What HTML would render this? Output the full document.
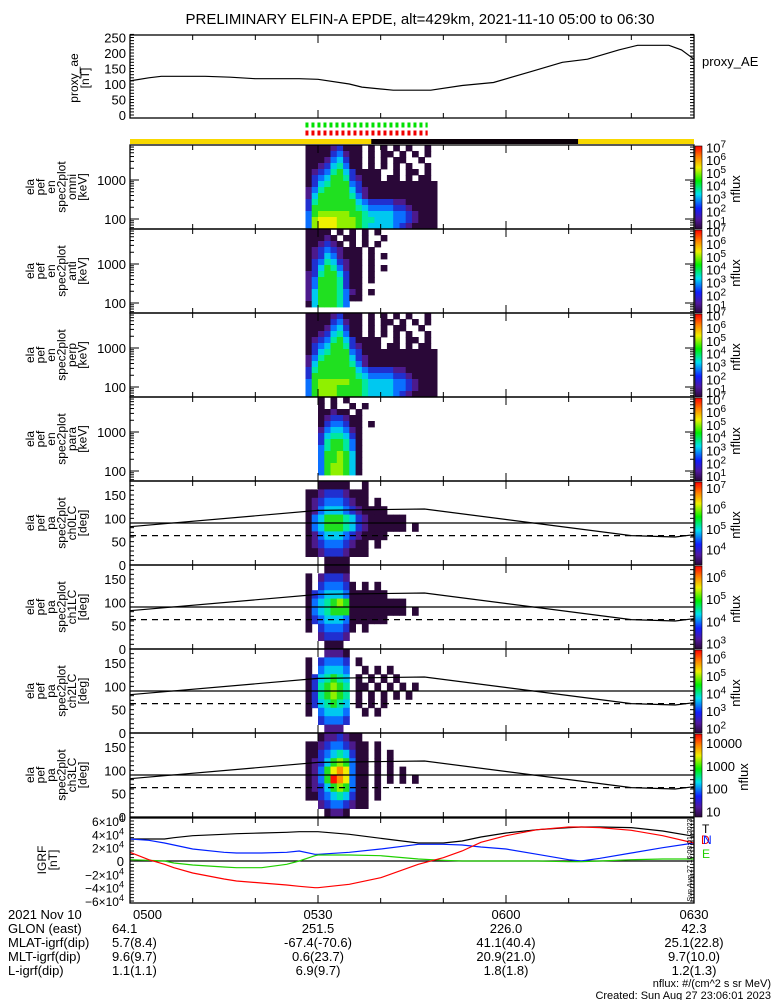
<!DOCTYPE html>
<html><head><meta charset="utf-8">
<style>
html,body{margin:0;padding:0;background:#fff;}
svg{display:block;font-family:"Liberation Sans",sans-serif;}
</style></head>
<body>
<svg id="c" width="775" height="1000" viewBox="0 0 775 1000" xmlns="http://www.w3.org/2000/svg">
<defs>
<linearGradient id="cbg" x1="0" y1="1" x2="0" y2="0">
<stop offset="0" stop-color="#2a0838"/><stop offset="0.12" stop-color="#5018a0"/>
<stop offset="0.25" stop-color="#1020ff"/><stop offset="0.42" stop-color="#00e0f0"/>
<stop offset="0.58" stop-color="#00f000"/><stop offset="0.74" stop-color="#f0f000"/>
<stop offset="0.87" stop-color="#ff8000"/><stop offset="1" stop-color="#ff0000"/>
</linearGradient>
</defs>
<text x="420" y="24" font-size="15" text-anchor="middle">PRELIMINARY ELFIN-A EPDE, alt=429km, 2021-11-10 05:00 to 06:30</text>
</svg>
<script>
// ---------- data ----------
const aeTimes = [0,3,5,12,16,20,27,30,35,37,42,48,53,58,64,69,73,78,81,86,88,90];
const aeValues = [110,120,125,125,122,117,117,115,100,90,80,80,95,105,140,170,180,210,225,225,210,180];
const statusTimes = [28,47.5]; // green/red dash span (min after 05:00)
const nightTimes = [38.5,71.5];
const specStart = 28;
const specStep = 1;
const omniRows = [
"000012000.0.0.0.0..0","000023100.0.00.0.0.0","000134200.0.0.00..0.","001245300.0.0.0.0..0",
"012356420000..0.00.0","023466521000.00.0.00","024566632000000000000","135666642100000000000",
"146666653100000000000","256666664322221100000","266666665433332210000","367777766544443321000",
"378887776554443321000","378887776544443210000"];
const antiRows = [
"0000.0.0.0.0........","00010.00.0..0.......","001210.0.0.0........","012321000.0.........",
"012431000.0.0.......","023542100.0.........","024653100.0.0.......","125664200.0.........",
"136665200.0.........","136665200...........","146665310.0.........","146665300...........",
"0466653.............","...................."];
const perpRows = [
"000012000.0.0.0.0..0","000023100.0.00.0.0.0","000134200.0.0.00..0.","001245300.0.0.0.0..0",
"012356420000..0.00.0","023466521000.00.0.00","024566632000000000000","135666642100000000000",
"146666653100000000000","256666664322221100000","266666665433332210000","367777766544443321000",
"367776666544443321000","367776666544443210000"];
const paraRows = [
"..0.0.0.............","..0.0..0.0..........","..00100.0...........","..0122100...........",
"..0233200.0.........","..1344310...........","..2455420...........","..2566530...........",
"..3566530...........","..3667640...........","..3667640...........","..3677640...........",
"..3677640...........","..............."];
const ch0Rows = ["..00000..0..........","0012221000..........","0123332100.0........","0134443210000.......",
"0346665421000000....","0346665421000000.0..","0134443210000.......","0123332100.0........","0012221000..........","...0000............."];
const ch1Rows = ["...0000.............","0.12221.............","0.233320.0.0........","0234443000000.......",
"0345676000000000....","0345666000000000.0..","0234443000000.......","0.233320.0..........","..12221.............","...000.............."];
const ch2Rows = ["...1110.............","0.23332.0...........","0.34443..0.0.0......","0245654.0.0.0.0.....",
"0256765.00.0.0.0.0..","0256765.0.0.0.0.0...","0245654.0.0.0.......","0.34443..0.0........","..23332.............","...111.............."];
const ch3Rows = ["..0112100...........","0012332100.0........","0023454200.0.0......","0124676300.0.0......",
"0136898300.0.0.0....","0136A98300.0.0.0.0..","0124676300.0........","0023454200.0........","..12332100..........","...0110............."];
const lcTimes = [0,30,47,80,87,90];
const lcUpper = [82,117,120,63,60,65];
const dashedPA = 63;
const igrfTimes = [0,3,5.5,7,10,15,17,21,25,27,29.5,30,35,40,46,50,53,56,60,65,70,72,75,80,85,90];
const igrfTot = [33,33,33,35,38,40,41,42,43,44,44,44,40,34,27,27,30,36,42,47,50,51,51,50,45,37];
const igrfBlue = [33,31,27,24,18,13,12,12,13,15,10,10,13,18,25,25,24,21,18,10,2,0,4,12,20,27];
const igrfRed = [13,2,-5,-10,-18,-27,-30,-33,-36,-38,-40,-40,-35,-25,-5,5,15,28,38,47,51,51,50,46,38,27];
const igrfGreen = [2,1,0,-3,-6,-9,-10,-10,-5,0,8,9,9,8,3,1,0,0,0,0,-1,-1,0,2,3,3];
const timeLabels = ["0500","0530","0600","0630"];
const glon = ["64.1","251.5","226.0","42.3"];
const mlat = ["5.7(8.4)","-67.4(-70.6)","41.1(40.4)","25.1(22.8)"];
const mlt = ["9.6(9.7)","0.6(23.7)","20.9(21.0)","9.7(10.0)"];
const lval = ["1.1(1.1)","6.9(9.7)","1.8(1.8)","1.2(1.3)"];
const levelColors = ["#2a0838","#4c1a8c","#2030d0","#0a70ff","#00c8f0","#00e8a0","#20e020","#90f000","#f0f000","#ff9000","#ff1000"];

// ---------- helpers ----------
const NS="http://www.w3.org/2000/svg";
const svg=document.getElementById('c');
const X0=130,X1=694;
function xOf(t){return X0+(t/90)*(X1-X0);}
function mk(tag,attrs,parent){const e=document.createElementNS(NS,tag);for(const k in attrs)e.setAttribute(k,attrs[k]);(parent||svg).appendChild(e);return e;}
function txt(x,y,s,size,anchor,parent,fill){const e=mk('text',{x:x,y:y,'font-size':size||12,'text-anchor':anchor||'start',fill:fill||'#000'},parent);e.textContent=s;return e;}
function poly(ts,vs,yf,color,parent,dash){let d='';ts.forEach((t,i)=>{d+=(i?'L':'M')+xOf(t).toFixed(1)+','+yf(vs[i]).toFixed(1);});return mk('path',{d:d,fill:'none',stroke:color,'stroke-width':1.2,'stroke-dasharray':dash||'none'},parent);}
function frame(T,H,g){
  mk('rect',{x:X0,y:T,width:X1-X0,height:H,fill:'none',stroke:'#000','stroke-width':1.3},g);
  for(let m=10;m<90;m+=10){const x=xOf(m);const L=(m%30===0)?8:5;
    mk('line',{x1:x,y1:T,x2:x,y2:T+L,stroke:'#000'},g);mk('line',{x1:x,y1:T+H,x2:x,y2:T+H-L,stroke:'#000'},g);}
}
function yTicks(ys,g,len){ys.forEach(y=>{mk('line',{x1:X0,y1:y,x2:X0+len,y2:y,stroke:'#000'},g);mk('line',{x1:X1,y1:y,x2:X1-len,y2:y,stroke:'#000'},g);});}
function rotLabel(lines,cx,cy,g,step){lines.forEach((s,i)=>{const x=cx+i*step;const e=txt(x,cy,s,12,'middle',g);e.setAttribute('transform','rotate(-90 '+x+' '+cy+')');});}

// ---------- top AE panel ----------
const gAE=mk('g',{});


const aeY=v=>115-v*0.31;
frame(35,83,gAE);
[0,50,100,150,200,250].forEach(v=>{txt(126,aeY(v)+5,String(v),13,'end',gAE);});
const aeMinor=[];for(let v=0;v<=260;v+=10)aeMinor.push(aeY(v));yTicks(aeMinor,gAE,4);
const aeLine=poly(aeTimes,aeValues,aeY,'#000',gAE);


rotLabel(['proxy_ae','[nT]'],78,78,gAE,11);
txt(702,66,'proxy_AE',13,'start',gAE);

// ---------- status bars ----------
const gS=mk('g',{});


mk('line',{x1:xOf(statusTimes[0]),y1:125,x2:xOf(statusTimes[1]),y2:125,stroke:'#00e000','stroke-width':5,'stroke-dasharray':'3,3'},gS);
mk('line',{x1:xOf(statusTimes[0]),y1:133,x2:xOf(statusTimes[1]),y2:133,stroke:'#f00000','stroke-width':5,'stroke-dasharray':'3,3'},gS);
mk('rect',{x:X0,y:139,width:X1-X0,height:5,fill:'#f8d800'},gS);
mk('rect',{x:xOf(nightTimes[0]),y:139,width:xOf(nightTimes[1])-xOf(nightTimes[0]),height:5,fill:'#0a0008'},gS);

// ---------- spectrogram panels ----------
const tops=[145,229,313,397,481,565,649,733];
const H=84;
const specs=[
 {rows:omniRows,kind:'en',name:'omni',lab:['ela','pef','en','spec2plot','omni','[keV]'],cb:[[7,0],[6,0],[5,0],[4,0],[3,0],[2,0],[1,0]],cbTop:7.1,cbBot:0.7},
 {rows:antiRows,kind:'en',name:'anti',lab:['ela','pef','en','spec2plot','anti','[keV]'],cb:[[7,0],[6,0],[5,0],[4,0],[3,0],[2,0],[1,0]],cbTop:7.1,cbBot:0.7},
 {rows:perpRows,kind:'en',name:'perp',lab:['ela','pef','en','spec2plot','perp','[keV]'],cb:[[7,0],[6,0],[5,0],[4,0],[3,0],[2,0],[1,0]],cbTop:7.1,cbBot:0.7},
 {rows:paraRows,kind:'en',name:'para',lab:['ela','pef','en','spec2plot','para','[keV]'],cb:[[7,0],[6,0],[5,0],[4,0],[3,0],[2,0],[1,0]],cbTop:7.1,cbBot:0.7},
 {rows:ch0Rows,kind:'pa',name:'ch0LC',lab:['ela','pef','pa','spec2plot','ch0LC','[deg]'],cb:[[7,0],[6,0],[5,0],[4,0]],cbTop:7.3,cbBot:3.3},
 {rows:ch1Rows,kind:'pa',name:'ch1LC',lab:['ela','pef','pa','spec2plot','ch1LC','[deg]'],cb:[[6,0],[5,0],[4,0],[3,0]],cbTop:6.5,cbBot:2.8},
 {rows:ch2Rows,kind:'pa',name:'ch2LC',lab:['ela','pef','pa','spec2plot','ch2LC','[deg]'],cb:[[6,0],[5,0],[4,0],[3,0],[2,0]],cbTop:6.5,cbBot:1.8},
 {rows:ch3Rows,kind:'pa',name:'ch3LC',lab:['ela','pef','pa','spec2plot','ch3LC','[deg]'],cb:[[4,1],[3,1],[2,1],[1,1]],cbTop:4.4,cbBot:0.8}
];
function sup(x,y,base,exp,g,size){const e=txt(x,y,base,size,'start',g);const t=mk('tspan',{dy:-5,'font-size':size-3},e);t.textContent=exp;return e;}
specs.forEach((s,i)=>{
  const T=tops[i];
  const g=mk('g',{});
  
  
  const nr=s.rows.length,rh=H/nr;
  s.rows.forEach((row,r)=>{
    for(let c=0;c<row.length;c++){const ch=row[c];if(ch==='.'||ch===' ')continue;
      const lv=parseInt(ch,16);const xa=xOf(specStart+c*specStep),xb=xOf(specStart+(c+1)*specStep);
      const cell=mk('rect',{x:xa.toFixed(1),y:(T+r*rh).toFixed(1),width:(xb-xa+0.4).toFixed(1),height:(rh+0.4).toFixed(1),fill:levelColors[lv]},g);
      
      
    }
  });
  if(s.kind==='en'){
    const eY=v=>T+35-(Math.log10(v)-3)*39;
    txt(126,eY(1000)+5,'1000',13,'end',g);txt(126,eY(100)+5,'100',13,'end',g);
    const tk=[];for(let d=1;d<=3;d++)for(let m=1;m<10;m++){const y=eY(m*Math.pow(10,d));if(y>T&&y<T+H)tk.push(y);}
    yTicks(tk,g,4);
    [100,1000].forEach(v=>{mk('line',{x1:X0,y1:eY(v),x2:X0+9,y2:eY(v),stroke:'#000'},g);mk('line',{x1:X1,y1:eY(v),x2:X1-9,y2:eY(v),stroke:'#000'},g);});
  } else {
    const pY=v=>T+H-v/180*H;
    [0,50,100,150].forEach(v=>txt(126,pY(v)+5,String(v),13,'end',g));
    const tk=[];for(let v=10;v<180;v+=10)tk.push(pY(v));yTicks(tk,g,4);
    mk('line',{x1:X0,y1:pY(90),x2:X1,y2:pY(90),stroke:'#000','stroke-width':1.2},g);
    const lc=poly(lcTimes,lcUpper,pY,'#000',g);
    
    
    const dl=mk('line',{x1:X0,y1:pY(dashedPA),x2:X1,y2:pY(dashedPA),stroke:'#000','stroke-width':1.2,'stroke-dasharray':'6,5'},g);
    
    
  }
  frame(T,H,g);
  rotLabel(s.lab,34,T+42,g,10.5);
  // colorbar
  const cb=mk('rect',{x:695,y:T+1,width:7,height:H-1,fill:'url(#cbg)',stroke:'#000','stroke-width':0.6},g);
  
  
  const cY=e=>T+1+(s.cbTop-e)/(s.cbTop-s.cbBot)*(H-2);
  s.cb.forEach(([e,plain])=>{const y=cY(e)+5;if(plain)txt(706,y,String(Math.pow(10,e)),13,'start',g);else sup(706,y,'10',String(e),g,13);});
  const nf=txt(0,0,'nflux',13,'middle',g);const nx=i===7?748:740,ny=T+44;
  nf.setAttribute('x',nx);nf.setAttribute('y',ny);nf.setAttribute('transform','rotate(-90 '+nx+' '+ny+')');
});

// ---------- IGRF panel ----------
const gI=mk('g',{});


const iY=v=>861-v*0.667;
[[6,'6×10'],[4,'4×10'],[2,'2×10'],[0,'0'],[-2,'−2×10'],[-4,'−4×10'],[-6,'−6×10']].forEach(([v,s])=>{
  const y=iY(v*10)+5;if(v===0)txt(124,y,'0',13,'end',gI);else{const e=txt(124,y,s,12,'end',gI);const t=mk('tspan',{dy:-5,'font-size':9},e);t.textContent='4';}
});
const itk=[];for(let v=-60;v<=60;v+=5)itk.push(iY(v));yTicks(itk,gI,4);
mk('line',{x1:X0,y1:iY(0),x2:X1,y2:iY(0),stroke:'#000','stroke-width':1.3},gI);
[[igrfTot,'#000','igrf-total'],[igrfBlue,'#0020ff','igrf-blue'],[igrfGreen,'#20d000','igrf-green'],[igrfRed,'#ff0000','igrf-red']].forEach(([vals,col,nm])=>{
  const p=poly(igrfTimes,vals,iY,col,gI);
  
  
});
frame(818,85,gI);
rotLabel(['IGRF','[nT]'],46,860,gI,11);
txt(702,833,'T',12,'start',gI,'#000');txt(701,844,'D',12,'start',gI,'#f00000');txt(703,844,'N',12,'start',gI,'#0020ff');txt(702,858,'E',12,'start',gI,'#20d000');
const stamp=txt(0,0,'Sun Aug 27 16:08:01 2023',7,'middle',gI);stamp.setAttribute('x',692);stamp.setAttribute('y',860);stamp.setAttribute('transform','rotate(-90 692 860)');

// ---------- bottom ephemeris text ----------
const gB=mk('g',{});


const rowsY=[919,933,947,961,975];
const rowLabels=['2021 Nov 10','GLON (east)','MLAT-igrf(dip)','MLT-igrf(dip)','L-igrf(dip)'];
const rowVals=[timeLabels,glon,mlat,mlt,lval];
rowLabels.forEach((l,i)=>{txt(8,rowsY[i],l,13,'start',gB);rowVals[i].forEach((v,j)=>{const x=j===0?(i===0?133:(i===2?118:118)):xOf(j*30);const a=j===0&&i>0?'start':'middle';txt(j===0?(i===0?133:(i===2?112:112)):x,rowsY[i],v,13,j===0?'start':'middle',gB);});});
txt(771,987,'nflux: #/(cm^2 s sr MeV)',11,'end',gB);
txt(771,999,'Created: Sun Aug 27 23:06:01 2023',11,'end',gB);
</script>
</body></html>
